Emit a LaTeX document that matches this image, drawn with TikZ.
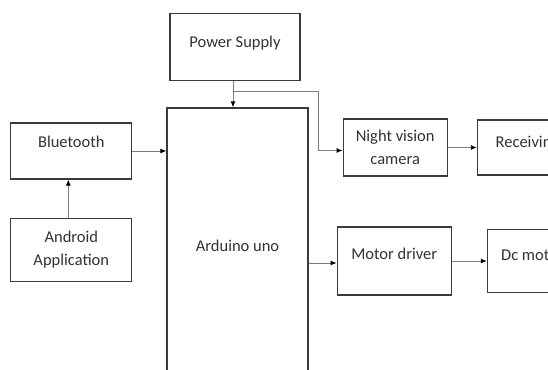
\documentclass[tikz,border=0pt]{standalone}
\usepackage{fontspec}
\setmainfont{Carlito}
\usetikzlibrary{positioning,arrows.meta}
\usepackage{xcolor}
\definecolor{BoxLine}{RGB}{58,58,58}
\definecolor{WireGray}{RGB}{125,125,125}
\definecolor{LabelGray}{RGB}{50,50,50}

\begin{document}
\begin{tikzpicture}[
x=1pt,y=-1pt,
box/.style={
  rectangle,
  draw=BoxLine,
  line width=1.2pt,
  fill=white,
  align=center,
  text=LabelGray,
  inner sep=0pt,
  font=\fontsize{16.5}{22.7}\selectfont
},
arrow/.style={-{Latex[length=6pt,width=5pt,color=black]},line width=0.9pt,draw=WireGray}
]
\useasboundingbox (0,0) rectangle (548,369);
\clip (0,0) rectangle (548,369);

\node[box,minimum width=141pt,minimum height=276pt] (ard) at (237.5,246) {Arduino uno};
\node[box,minimum width=130pt,minimum height=67pt,text depth=11pt,above=26pt of ard,xshift=-2.5pt] (ps) {Power Supply};
\node[box,minimum width=121pt,minimum height=56pt,text depth=18pt,below left=15pt and 34pt of ard.north west] (bt) {Bluetooth};
\node[box,minimum width=121pt,minimum height=63pt,below=38pt of bt] (app) {Android\\Application};
\node[box,minimum width=104pt,minimum height=57pt,below right=11pt and 34pt of ard.north east] (cam) {Night vision\\camera};
\node[box,minimum width=100pt,minimum height=55pt,text depth=11pt,right=29pt of cam] (rx) {Receiving};
\node[box,minimum width=114pt,minimum height=68pt,text depth=14pt,below right=119pt and 28pt of ard.north east] (md) {Motor driver};
\node[box,minimum width=90pt,minimum height=63pt,text depth=11pt,right=35pt of md] (dc) {Dc motor};

\coordinate[below=9.6pt of ps.south] (split);
\draw[arrow] ([xshift=-2pt]ps.south) -- ([xshift=-2pt]ps.south |- ard.north);
\draw[arrow] ([xshift=-2pt]split) -| ([xshift=-24pt,yshift=-3pt]cam.west) -- ([yshift=-3pt]cam.west);
\draw[arrow] (bt.east) -- (bt.east -| ard.west);
\draw[arrow] ([xshift=-3pt]app.north) -- ([xshift=-3pt]bt.south);
\draw[arrow] (cam) -- (rx);
\draw[arrow] ([yshift=-2pt]md.west -| ard.east) -- ([yshift=-2pt]md.west);
\draw[arrow] (md) -- (dc);
\end{tikzpicture}
\end{document}
